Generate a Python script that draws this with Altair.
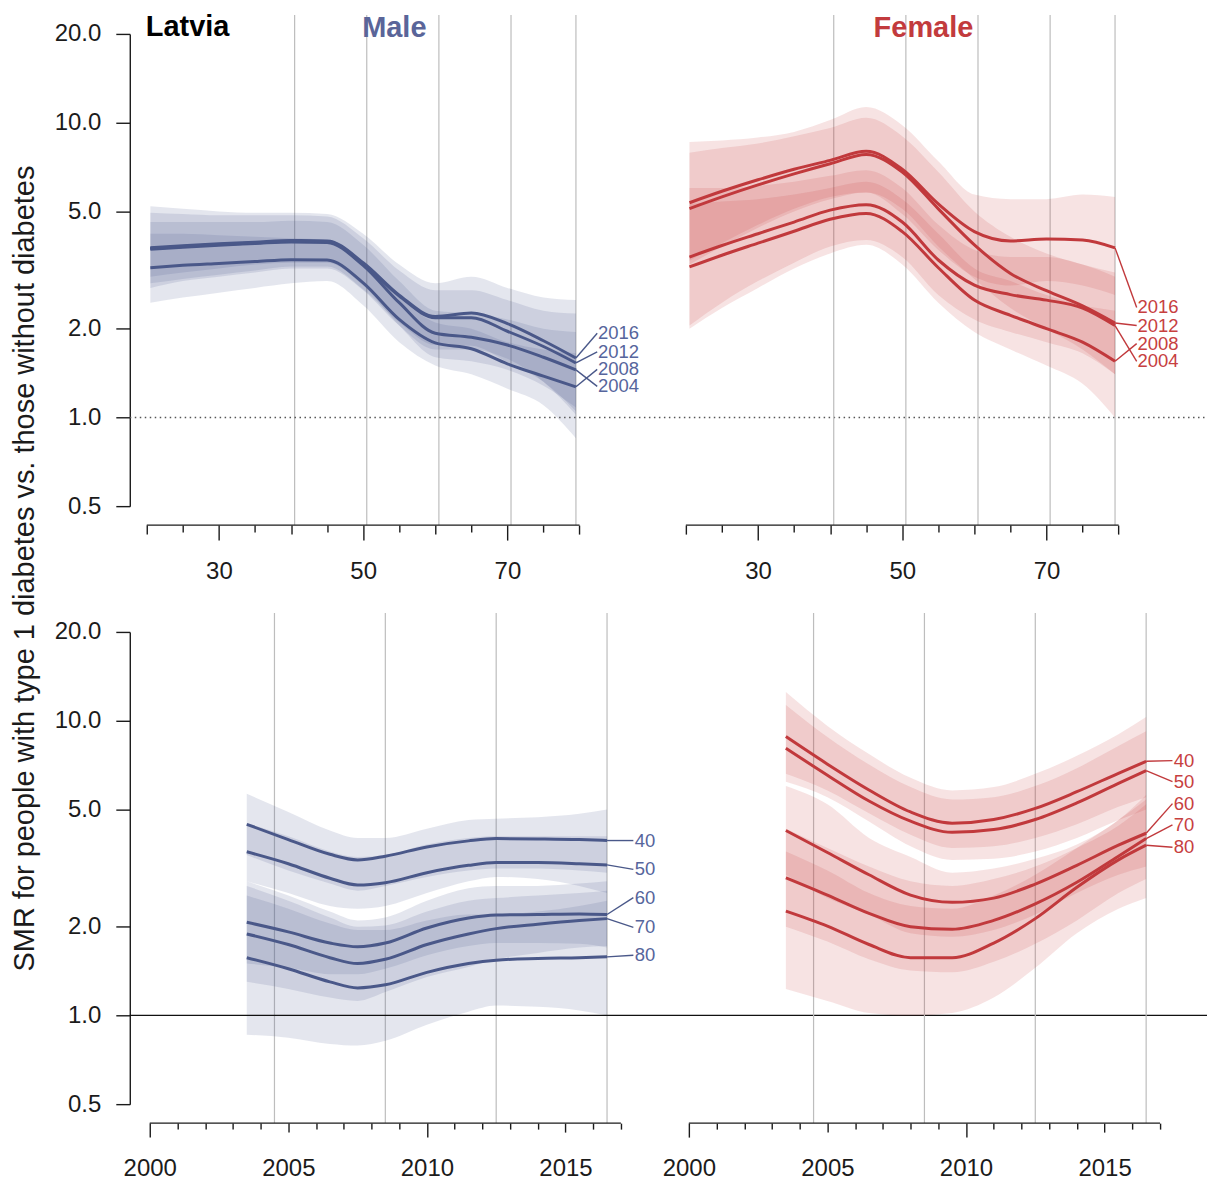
import altair as alt
import pandas as pd

FONT = "Liberation Sans"
INK = "#1b1b1b"
GRID = "#bdbdbd"
MALE_LINE = "#4a5889"
MALE_FILL = "#4b5a8c"
MALE_TEXT = "#56659c"
FEMALE_LINE = "#c1393c"
FEMALE_FILL = "#c8393c"
FEMALE_TEXT = "#c7403f"

PANEL_H = 473
PANEL_W = 480
AGE_PX_PER_YEAR = 7.225
CAL_PX_PER_YEAR = 27.76

Y_TICKS = [0.5, 1, 2, 5, 10, 20]
AGE_TICKS = list(range(20, 81, 5))
YEAR_TICKS = list(range(2000, 2018))
AGE_AXIS_SPAN = [20, 80]
YEAR_AXIS_SPAN = [2000, 2017]
AGE_GRID = [40.5, 50.5, 60.5, 70.5, 79.5]
YEAR_GRID = [2004.5, 2008.5, 2012.5, 2016.5]

# ---------------- SMR by age, one curve per calendar year ----------------
AGES = [20.5, 25, 30, 35, 40, 45, 50, 55, 60, 65, 70, 75, 79.5]

M_AGE_FIT = {
    "2004": [3.72, 3.78, 3.84, 3.89, 3.94, 3.92, 3.28, 2.45, 1.93, 1.87, 1.76, 1.60, 1.45],
    "2008": [3.22, 3.28, 3.33, 3.38, 3.43, 3.42, 2.86, 2.15, 1.79, 1.71, 1.52, 1.38, 1.27],
    "2012": [3.74, 3.80, 3.86, 3.91, 3.96, 3.95, 3.32, 2.58, 2.18, 2.18, 1.96, 1.74, 1.53],
    "2016": [3.76, 3.82, 3.88, 3.93, 3.98, 3.97, 3.35, 2.60, 2.20, 2.26, 2.08, 1.82, 1.59],
}
M_AGE_HI = {
    "2004": [4.6, 4.6, 4.6, 4.6, 4.65, 4.6, 3.85, 2.9, 2.3, 2.25, 2.15, 2.0, 1.95],
    "2008": [4.2, 4.2, 4.15, 4.1, 4.05, 4.0, 3.35, 2.55, 2.1, 2.0, 1.8, 1.7, 1.65],
    "2012": [4.95, 4.9, 4.85, 4.85, 4.85, 4.8, 4.05, 3.15, 2.7, 2.7, 2.5, 2.3, 2.25],
    "2016": [5.2, 5.1, 5.0, 4.95, 4.95, 4.9, 4.2, 3.3, 2.85, 3.0, 2.75, 2.55, 2.5],
}
M_AGE_LO = {
    "2004": [3.0, 3.1, 3.2, 3.3, 3.35, 3.35, 2.8, 2.05, 1.6, 1.55, 1.45, 1.28, 1.08],
    "2008": [2.45, 2.55, 2.65, 2.75, 2.85, 2.9, 2.4, 1.8, 1.5, 1.4, 1.25, 1.1, 0.85],
    "2012": [2.85, 2.95, 3.05, 3.15, 3.25, 3.25, 2.72, 2.1, 1.76, 1.75, 1.54, 1.32, 1.05],
    "2016": [2.75, 2.9, 3.0, 3.1, 3.2, 3.2, 2.7, 2.05, 1.7, 1.7, 1.58, 1.32, 1.02],
}
M_AGE_LABEL_Y = {"2016": 1.93, "2012": 1.67, "2008": 1.455, "2004": 1.274}

F_AGE_FIT = {
    "2004": [3.50, 3.83, 4.2, 4.6, 5.05, 5.27, 4.6, 3.42, 2.81, 2.61, 2.50, 2.35, 2.05],
    "2008": [3.24, 3.55, 3.9, 4.28, 4.70, 4.92, 4.27, 3.22, 2.50, 2.22, 2.0, 1.80, 1.55],
    "2012": [5.11, 5.6, 6.15, 6.7, 7.25, 7.8, 6.8, 5.1, 3.85, 3.08, 2.69, 2.39, 2.09],
    "2016": [5.35, 5.85, 6.4, 6.95, 7.45, 8.0, 6.95, 5.3, 4.27, 3.97, 4.03, 4.0, 3.76],
}
F_AGE_HI = {
    "2004": [6.0, 6.0, 6.1, 6.3, 6.6, 6.9, 6.0, 4.5, 3.7, 3.5, 3.5, 3.3, 3.0],
    "2008": [5.3, 5.4, 5.5, 5.7, 6.0, 6.3, 5.5, 4.2, 3.2, 2.9, 2.6, 2.4, 2.3],
    "2012": [7.9, 8.2, 8.5, 9.0, 9.6, 10.4, 9.0, 6.8, 5.0, 4.1, 3.6, 3.3, 3.1],
    "2016": [8.6, 8.7, 8.9, 9.3, 10.2, 11.3, 9.8, 7.4, 5.7, 5.5, 5.5, 5.7, 5.6],
}
F_AGE_LO = {
    "2004": [2.05, 2.45, 2.9, 3.35, 3.8, 4.0, 3.5, 2.6, 2.15, 1.95, 1.8, 1.65, 1.4],
    "2008": [2.0, 2.35, 2.75, 3.2, 3.6, 3.85, 3.3, 2.45, 1.95, 1.7, 1.5, 1.3, 1.0],
    "2012": [3.3, 3.8, 4.4, 5.0, 5.5, 5.8, 5.1, 3.8, 2.95, 2.35, 2.0, 1.7, 1.4],
    "2016": [3.4, 3.9, 4.5, 5.1, 5.6, 5.8, 4.9, 3.7, 3.0, 2.8, 2.9, 2.8, 2.6],
}
F_AGE_LABEL_Y = {"2016": 2.36, "2012": 2.05, "2008": 1.78, "2004": 1.55}

# ---------------- SMR by calendar year, one curve per age ----------------
M_YEARS = [2003.5, 2005, 2006.5, 2007.5, 2008.5, 2010, 2011.5, 2012.5, 2014, 2015.5, 2016.5]

M_YEAR_FIT = {
    "40": [4.45, 3.95, 3.52, 3.37, 3.47, 3.73, 3.91, 3.98, 3.97, 3.95, 3.92],
    "50": [3.59, 3.27, 2.92, 2.77, 2.82, 3.05, 3.23, 3.30, 3.30, 3.27, 3.24],
    "60": [2.07, 1.92, 1.76, 1.71, 1.76, 1.98, 2.14, 2.19, 2.20, 2.21, 2.20],
    "70": [1.89, 1.74, 1.57, 1.50, 1.55, 1.74, 1.89, 1.97, 2.04, 2.10, 2.13],
    "80": [1.57, 1.44, 1.30, 1.24, 1.27, 1.40, 1.50, 1.54, 1.56, 1.57, 1.58],
}
M_YEAR_HI = {
    "40": [5.65, 4.9, 4.24, 4.0, 4.0, 4.3, 4.6, 4.65, 4.7, 4.83, 5.0],
    "50": [4.5, 4.05, 3.6, 3.45, 3.5, 3.8, 4.0, 4.05, 4.05, 4.05, 4.05],
    "60": [2.85, 2.55, 2.25, 2.1, 2.15, 2.45, 2.7, 2.75, 2.75, 2.8, 2.85],
    "70": [2.75, 2.45, 2.15, 2.0, 2.02, 2.25, 2.45, 2.5, 2.55, 2.6, 2.65],
    "80": [2.55, 2.3, 2.05, 1.95, 1.95, 2.1, 2.2, 2.2, 2.25, 2.35, 2.45],
}
M_YEAR_LO = {
    "40": [3.5, 3.1, 2.8, 2.65, 2.75, 2.95, 3.1, 3.15, 3.15, 3.1, 3.05],
    "50": [2.85, 2.6, 2.35, 2.3, 2.35, 2.6, 2.85, 2.95, 2.9, 2.75, 2.6],
    "60": [1.5, 1.45, 1.38, 1.38, 1.44, 1.6, 1.72, 1.76, 1.76, 1.75, 1.7],
    "70": [1.3, 1.23, 1.15, 1.12, 1.2, 1.35, 1.46, 1.55, 1.63, 1.7, 1.72],
    "80": [0.86, 0.84, 0.80, 0.79, 0.82, 0.93, 1.03, 1.08, 1.07, 1.04, 1.0],
}
M_YEAR_LABEL_Y = {"40": 3.92, "50": 3.13, "60": 2.51, "70": 1.99, "80": 1.60}

F_YEARS = [2003.5, 2005, 2006.5, 2008, 2009.5, 2011, 2012.5, 2014, 2015.5, 2016.5]

F_YEAR_FIT = {
    "40": [8.83, 7.12, 5.82, 4.90, 4.49, 4.62, 5.04, 5.74, 6.63, 7.28],
    "50": [8.06, 6.53, 5.34, 4.56, 4.18, 4.27, 4.62, 5.26, 6.13, 6.77],
    "60": [4.24, 3.57, 3.00, 2.56, 2.42, 2.50, 2.79, 3.23, 3.78, 4.15],
    "70": [2.93, 2.56, 2.22, 2.00, 1.96, 2.10, 2.39, 2.83, 3.47, 3.98],
    "80": [2.26, 2.01, 1.74, 1.57, 1.57, 1.76, 2.13, 2.72, 3.37, 3.78],
}
F_YEAR_HI = {
    "40": [12.5, 9.6, 7.7, 6.4, 5.8, 5.95, 6.6, 7.6, 9.0, 10.3],
    "50": [11.3, 8.8, 7.1, 5.95, 5.4, 5.5, 6.0, 6.9, 8.2, 9.2],
    "60": [6.0, 5.2, 4.0, 3.45, 3.05, 3.15, 3.4, 3.8, 4.6, 5.6],
    "70": [4.3, 3.7, 3.2, 2.85, 2.75, 2.9, 3.2, 3.7, 4.4, 5.2],
    "80": [3.6, 3.1, 2.6, 2.35, 2.3, 2.55, 3.0, 3.7, 4.6, 5.4],
}
F_YEAR_LO = {
    "40": [6.6, 5.8, 4.85, 4.1, 3.7, 3.75, 4.0, 4.45, 5.1, 5.5],
    "50": [6.2, 5.5, 4.55, 3.75, 3.37, 3.4, 3.6, 4.0, 4.6, 5.0],
    "60": [3.0, 2.5, 2.2, 1.9, 1.85, 1.95, 2.2, 2.6, 3.0, 3.2],
    "70": [2.0, 1.78, 1.55, 1.42, 1.40, 1.52, 1.75, 2.1, 2.6, 2.9],
    "80": [1.23, 1.12, 1.02, 1.0, 1.02, 1.15, 1.45, 1.9, 2.3, 2.5],
}
F_YEAR_LABEL_Y = {"40": 7.32, "50": 6.21, "60": 5.23, "70": 4.43, "80": 3.72}


def curve_frame(xs, fit, lo, hi):
    rows = []
    for name in fit:
        for x, f, l, h in zip(xs, fit[name], lo[name], hi[name]):
            rows.append({"x": x, "fit": f, "lo": l, "hi": h, "series": name})
    return pd.DataFrame(rows)


def label_frame(xs, fit, label_y, lead_x, text_x):
    rows = []
    for name in fit:
        rows.append({"series": name, "x_end": xs[-1], "y_end": fit[name][-1],
                     "x_lead": lead_x, "x_lab": text_x, "y_lab": label_y[name]})
    return pd.DataFrame(rows)


Y_AXIS = alt.Axis(values=Y_TICKS, format=".1f", title=None, grid=False, offset=17,
                  domainColor=INK, domainWidth=1.4, tickColor=INK, tickWidth=1.4,
                  tickSize=14, labelFont=FONT, labelFontSize=24, labelColor=INK,
                  labelPadding=15, labelOverlap=False, labelFlush=False)


def x_axis(values, label_test, long_test, mid_test, long_len, mid_len, short_len,
           pad_long, pad_other):
    # the axis line itself is drawn as a rule so that it only spans the tick range
    return alt.Axis(values=values, format="d",
                    labelExpr="(" + label_test + ") ? datum.label : ''",
                    title=None, grid=False, offset=19, domain=False,
                    tickColor=INK, tickWidth=1.4,
                    tickSize={"condition": [{"test": long_test, "value": long_len},
                                            {"test": mid_test, "value": mid_len}],
                              "value": short_len},
                    labelFont=FONT, labelFontSize=24, labelColor=INK,
                    labelPadding={"condition": {"test": long_test, "value": pad_long},
                                  "value": pad_other},
                    labelFlush=False, labelOverlap=False)


AGE_AXIS = x_axis(AGE_TICKS, "indexof([30, 50, 70], datum.value) >= 0",
                  "indexof([30, 50, 70], datum.value) >= 0", "datum.value % 10 == 0",
                  15, 9, 7, 19, 19)
YEAR_AXIS = x_axis(YEAR_TICKS, "datum.value % 5 == 0",
                   "datum.value % 10 == 0", "datum.value % 5 == 0",
                   14, 9, 6, 19, 24)

AGE_DOMAIN = [20, 20 + PANEL_W / AGE_PX_PER_YEAR]
YEAR_START = 2000 - 3 / CAL_PX_PER_YEAR
YEAR_DOMAIN = [YEAR_START, YEAR_START + PANEL_W / CAL_PX_PER_YEAR]


def panel(xs, fit, lo, hi, label_y, lead_x, text_x, x_domain, axis_span, grid_at, xaxis,
          show_y, fill, fill_alpha, line_color, text_color, extras):
    xsc = alt.Scale(domain=x_domain, nice=False, zero=False)
    ysc = alt.Scale(type="log", domain=[0.5, 20], nice=False)
    yax = Y_AXIS if show_y else None

    def X(f):
        return alt.X(f, type="quantitative", scale=xsc, axis=xaxis)

    def Y(f):
        return alt.Y(f, type="quantitative", scale=ysc, axis=yax)

    curves = curve_frame(xs, fit, lo, hi)
    labels = label_frame(xs, fit, label_y, lead_x, text_x)

    axis_line = alt.Chart(pd.DataFrame({"a": [axis_span[0]], "b": [axis_span[1]]})).mark_rule(
        color=INK, strokeWidth=1.4).encode(
        x=X("a"), x2=alt.X2("b"), y=alt.value(PANEL_H + 19))

    grid = alt.Chart(pd.DataFrame({"at": grid_at})).mark_rule(
        color=GRID, strokeWidth=1.2).encode(
        x=X("at"), y=alt.value(-19), y2=alt.value(PANEL_H + 19))

    bands = alt.Chart(curves).mark_area(
        color=fill, opacity=fill_alpha, interpolate="monotone").encode(
        x=X("x"), y=Y("lo"), y2=alt.Y2("hi"), detail="series:N")

    lines = alt.Chart(curves).mark_line(
        color=line_color, strokeWidth=3, interpolate="monotone").encode(
        x=X("x"), y=Y("fit"), detail="series:N")

    leaders = alt.Chart(labels).mark_rule(color=line_color, strokeWidth=1.4).encode(
        x=X("x_end"), y=Y("y_end"), x2=alt.X2("x_lead"), y2=alt.Y2("y_lab"))

    texts = alt.Chart(labels).mark_text(
        align="left", baseline="middle", font=FONT, fontSize=18.5, color=text_color).encode(
        x=X("x_lab"), y=Y("y_lab"), text="series:N")

    layers = [grid, axis_line, bands] + [e(X, Y) for e in extras] + [lines, leaders, texts]
    return alt.layer(*layers).properties(width=PANEL_W, height=PANEL_H)


def ref_line(dash, color, width_px):
    def make(X, Y):
        mark = {"color": color, "strokeWidth": width_px}
        if dash:
            mark["strokeDash"] = dash
        return alt.Chart(pd.DataFrame({"ref": [1.0]})).mark_rule(**mark).encode(
            x=alt.value(-17), x2=alt.value(1062), y=Y("ref"))
    return make


def title_text(text, x_px, y_px, color, align, size=29, angle=0, baseline="alphabetic"):
    def make(X, Y):
        props = dict(font=FONT, fontSize=size, fontWeight="bold", color=color,
                     align=align, baseline=baseline)
        if angle:
            props["angle"] = angle
            props["fontWeight"] = "normal"
        return alt.Chart(pd.DataFrame({"t": [text]})).mark_text(**props).encode(
            text="t:N", x=alt.value(x_px), y=alt.value(y_px))
    return make


male_age = panel(
    AGES, M_AGE_FIT, M_AGE_LO, M_AGE_HI, M_AGE_LABEL_Y, 82.45, 82.55, AGE_DOMAIN,
    AGE_AXIS_SPAN, AGE_GRID, AGE_AXIS, True, MALE_FILL, 0.15, MALE_LINE, MALE_TEXT,
    [ref_line([1.5, 3.5], "#555555", 1.5),
     title_text("Latvia", -1, 2, "#000000", "left"),
     title_text("Male", 248, 3, "#5a6599", "center"),
     title_text("SMR for people with type 1 diabetes vs. those without diabetes",
                -122, 535.5, INK, "center", size=29, angle=270, baseline="middle")])

female_age = panel(
    AGES, F_AGE_FIT, F_AGE_LO, F_AGE_HI, F_AGE_LABEL_Y, 82.5, 82.6, AGE_DOMAIN,
    AGE_AXIS_SPAN, AGE_GRID, AGE_AXIS, False, FEMALE_FILL, 0.14, FEMALE_LINE, FEMALE_TEXT,
    [title_text("Female", 238, 3, "#c23b3d", "center")])

male_year = panel(
    M_YEARS, M_YEAR_FIT, M_YEAR_LO, M_YEAR_HI, M_YEAR_LABEL_Y, 2017.45, 2017.5,
    YEAR_DOMAIN, YEAR_AXIS_SPAN, YEAR_GRID, YEAR_AXIS, True, MALE_FILL, 0.15, MALE_LINE,
    MALE_TEXT, [ref_line(None, "#111111", 1.3)])

female_year = panel(
    F_YEARS, F_YEAR_FIT, F_YEAR_LO, F_YEAR_HI, F_YEAR_LABEL_Y, 2017.45, 2017.5,
    YEAR_DOMAIN, YEAR_AXIS_SPAN, YEAR_GRID, YEAR_AXIS, False, FEMALE_FILL, 0.14,
    FEMALE_LINE, FEMALE_TEXT, [])

chart = alt.concat(
    male_age, female_age, male_year, female_year, columns=2,
    spacing={"row": 126, "column": 540 - PANEL_W}, bounds="flush"
).resolve_scale(x="independent", y="independent").properties(
    padding={"left": 11, "top": 12, "right": 0, "bottom": 0}, background="white"
).configure_view(stroke=None)

chart.save("out.html", embed_options={"renderer": "svg", "actions": False})
